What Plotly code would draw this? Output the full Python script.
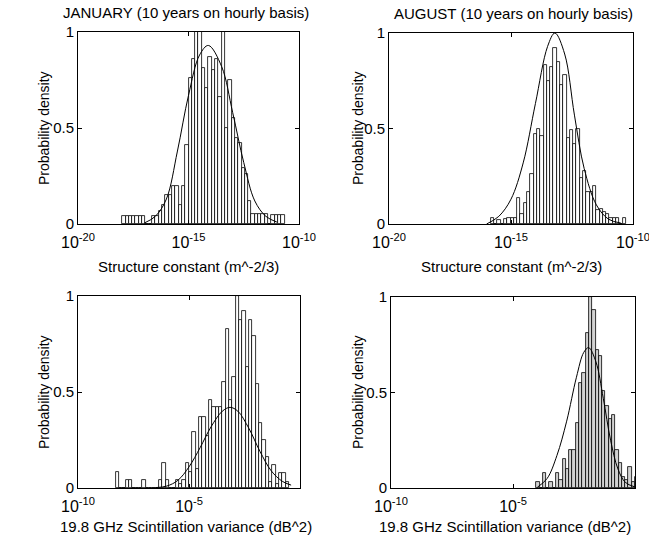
import numpy as np
import plotly.graph_objects as go

FONT = "Liberation Sans, Arial, Helvetica, sans-serif"

# ---------------- data (x values are log10 of the quantity) ----------------
# Top-left: JANUARY structure constant
jan_sc_first_center = -17.925
jan_sc_bin = 0.15
jan_sc_heights = [0.04, 0.04, 0.04, 0.04, 0.04, 0.04, 0.04, 0.0, 0.0, 0.04,
                  0.04, 0.07, 0.10, 0.15, 0.15, 0.20, 0.20, 0.10, 0.20, 0.41,
                  0.76, 0.86, 1.05, 1.05, 0.81, 0.71, 0.87, 0.80, 0.86, 0.66,
                  1.05, 0.50, 0.75, 0.55, 0.45, 0.42, 0.29, 0.26, 0.12, 0.05,
                  0.05, 0.05, 0.05, 0.05, 0.0, 0.045, 0.045, 0.045, 0.045]
jan_sc_fit_x = [-17.0, -16.5, -16.0, -15.5, -15.0, -14.5, -14.1, -13.5, -13.0, -12.5, -12.0, -11.5, -11.0]
jan_sc_fit_y = [0.005, 0.04, 0.13, 0.38, 0.67, 0.88, 0.93, 0.82, 0.58, 0.32, 0.12, 0.04, 0.01]

# Top-right: AUGUST structure constant
aug_sc_first_center = -15.76
aug_sc_bin = 0.135
aug_sc_heights = [0.03, 0.0, 0.02, 0.0, 0.025, 0.03, 0.03, 0.03, 0.136, 0.05,
                  0.11, 0.17, 0.26, 0.47, 0.50, 0.46, 0.83, 0.75, 0.82, 0.92,
                  0.85, 0.73, 0.78, 0.45, 0.49, 0.42, 0.50, 0.24, 0.28, 0.17,
                  0.17, 0.20, 0.075, 0.08, 0.065, 0.055, 0.03, 0.03, 0.03, 0.0, 0.03]
aug_sc_fit_x = [-16.0, -15.5, -15.0, -14.5, -14.0, -13.5, -13.2, -12.8, -12.4, -12.0, -11.5, -11.0, -10.5]
aug_sc_fit_y = [0.0, 0.04, 0.13, 0.32, 0.63, 0.93, 1.0, 0.89, 0.57, 0.29, 0.10, 0.025, 0.005]

# Bottom-left: JANUARY scintillation variance
jan_sv_first_center = -8.225
jan_sv_bin = 0.15
jan_sv_heights = [0.085, 0.0, 0.0, 0.04, 0.04, 0.0, 0.0, 0.0, 0.04, 0.0,
                  0.0, 0.0, 0.0, 0.04, 0.13, 0.04, 0.0, 0.0, 0.04, 0.02,
                  0.04, 0.13, 0.085, 0.29, 0.10, 0.37, 0.37, 0.27, 0.46, 0.42,
                  0.42, 0.42, 0.55, 0.83, 0.46, 0.58, 1.0, 0.875, 0.92, 0.63,
                  0.875, 0.79, 0.54, 0.34, 0.25, 0.16, 0.03, 0.12, 0.02, 0.08,
                  0.08, 0.03]
jan_sv_fit_x = [-6.5, -6.0, -5.5, -5.0, -4.5, -4.0, -3.5, -3.15, -2.8, -2.3, -1.8, -1.3, -0.8, -0.4]
jan_sv_fit_y = [0.002, 0.01, 0.04, 0.11, 0.21, 0.32, 0.40, 0.42, 0.40, 0.31, 0.19, 0.09, 0.035, 0.015]

# Bottom-right: AUGUST scintillation variance
aug_sv_first_center = -3.98
aug_sv_bin = 0.135
aug_sv_heights = [0.033, 0.0, 0.08, 0.0, 0.03, 0.0, 0.08, 0.04, 0.15, 0.10,
                  0.20, 0.20, 0.34, 0.55, 0.60, 0.81, 1.0, 0.93, 0.72, 0.69,
                  0.51, 0.43, 0.36, 0.38, 0.20, 0.13, 0.06, 0.04, 0.11, 0.03, 0.06]
aug_sv_fit_x = [-4.0, -3.6, -3.2, -2.8, -2.4, -2.1, -1.9, -1.6, -1.3, -1.0, -0.7, -0.4, 0.0]
aug_sv_fit_y = [0.004, 0.05, 0.17, 0.35, 0.58, 0.71, 0.735, 0.66, 0.47, 0.25, 0.10, 0.03, 0.005]

titles = ["JANUARY (10 years on hourly basis)", "AUGUST (10 years on hourly basis)"]
xtitles = ["Structure constant (m^-2/3)", "19.8 GHz Scintillation variance (dB^2)"]
ylabel = "Probability density"
sc_ticks = [-20, -15, -10]
sv_ticks = [-10, -5]
y_ticks = [0, 0.5, 1]
y_ticktext = ["0", "0.5", "1"]

# ---------------- figure ----------------
W, H = 649, 535
fig = go.Figure()

panels = [
    dict(first=jan_sc_first_center, bw=jan_sc_bin, h=jan_sc_heights, fx=jan_sc_fit_x, fy=jan_sc_fit_y,
         xr=[-20, -10], ticks=sc_ticks, px=(78, 299), py=(32, 224), fill="white"),
    dict(first=aug_sc_first_center, bw=aug_sc_bin, h=aug_sc_heights, fx=aug_sc_fit_x, fy=aug_sc_fit_y,
         xr=[-20, -10], ticks=sc_ticks, px=(389, 633), py=(33, 224), fill="white"),
    dict(first=jan_sv_first_center, bw=jan_sv_bin, h=jan_sv_heights, fx=jan_sv_fit_x, fy=jan_sv_fit_y,
         xr=[-10, 0], ticks=sv_ticks, px=(78, 300), py=(296, 488), fill="white"),
    dict(first=aug_sv_first_center, bw=aug_sv_bin, h=aug_sv_heights, fx=aug_sv_fit_x, fy=aug_sv_fit_y,
         xr=[-10, 0], ticks=sv_ticks, px=(391, 635), py=(297, 488), fill="#d2d2d2"),
]

layout = dict(width=W, height=H, margin=dict(l=0, r=0, t=0, b=0, autoexpand=False),
              paper_bgcolor="white", plot_bgcolor="white", showlegend=False,
              font=dict(family=FONT, size=13, color="black"), bargap=0)

for k, p in enumerate(panels, start=1):
    xa = "x" if k == 1 else f"x{k}"
    ya = "y" if k == 1 else f"y{k}"
    centers = [p["first"] + i * p["bw"] for i in range(len(p["h"]))]
    fig.add_trace(go.Bar(x=centers, y=p["h"], width=p["bw"], xaxis=xa, yaxis=ya,
                         marker=dict(color=p["fill"], line=dict(color="black", width=0.8))))
    fig.add_trace(go.Scatter(x=p["fx"], y=p["fy"], mode="lines", xaxis=xa, yaxis=ya,
                             line=dict(color="black", width=1, shape="spline")))
    x0, x1 = p["px"]
    y0, y1 = p["py"]
    xkey = "xaxis" if k == 1 else f"xaxis{k}"
    ykey = "yaxis" if k == 1 else f"yaxis{k}"
    layout[xkey] = dict(domain=[x0 / W, x1 / W], range=p["xr"], anchor=ya,
                        tickvals=p["ticks"],
                        ticktext=[f"10<sup>{t}</sup>" for t in p["ticks"]],
                        ticks="inside", ticklen=4, tickcolor="black",
                        showline=True, linecolor="black", linewidth=1, mirror="ticks",
                        showgrid=False, zeroline=False, automargin=False,
                        ticklabelstandoff=4, ticklabeloverflow="allow",
                        tickfont=dict(family=FONT, size=16))
    layout[ykey] = dict(domain=[1 - y1 / H, 1 - y0 / H], range=[0, 1], anchor=xa,
                        tickvals=y_ticks, ticktext=y_ticktext,
                        ticks="inside", ticklen=4, tickcolor="black",
                        showline=True, linecolor="black", linewidth=1, mirror="ticks",
                        showgrid=False, zeroline=False, automargin=False,
                        ticklabeloverflow="allow",
                        tickfont=dict(family=FONT, size=15))

fig.update_layout(**layout)

annos = []
# titles
annos.append(dict(text=titles[0], x=186 / W, y=1 - 13 / H))
annos.append(dict(text=titles[1], x=513 / W, y=1 - 14 / H))
# x titles
annos.append(dict(text=xtitles[0], x=188 / W, y=1 - 266 / H))
annos.append(dict(text=xtitles[0], x=511 / W, y=1 - 266 / H))
annos.append(dict(text=xtitles[1], x=186 / W, y=1 - 526 / H))
annos.append(dict(text=xtitles[1], x=505 / W, y=1 - 526 / H))
for a in annos:
    a.update(xref="paper", yref="paper", showarrow=False, xanchor="center", yanchor="middle",
             font=dict(family=FONT, size=15, color="black"))
# y labels
for (xx, yy) in [(44, 128), (358, 128), (44, 392), (358, 392)]:
    annos.append(dict(text=ylabel, x=xx / W, y=1 - yy / H, xref="paper", yref="paper",
                      showarrow=False, textangle=-90, xanchor="center", yanchor="middle",
                      font=dict(family=FONT, size=14, color="black")))
fig.update_layout(annotations=annos)

fig.write_html("out.html")
